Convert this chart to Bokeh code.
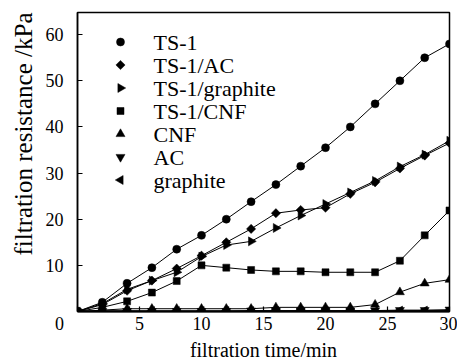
import math
from bokeh.plotting import figure
from bokeh.models import FixedTicker, Range1d, Title
from bokeh.core.properties import value
from bokeh.embed import file_html
from bokeh.resources import INLINE

time_min = [0, 2, 4, 6, 8, 10, 12, 14, 16, 18, 20, 22, 24, 26, 28, 30]
ts1 = [0, 2.0, 6.1, 9.5, 13.5, 16.5, 20.0, 23.8, 27.5, 31.5, 35.5, 40.0, 45.0, 50.0, 55.0, 58.0]
ts1_ac = [0, 1.5, 4.5, 6.7, 9.3, 12.1, 15.0, 17.9, 21.3, 22.0, 22.5, 25.5, 28.0, 31.0, 33.8, 36.5]
ts1_graphite = [0, 1.7, 4.8, 6.7, 8.5, 11.9, 14.4, 15.2, 18.1, 20.8, 23.3, 25.8, 28.3, 31.4, 34.0, 37.0]
ts1_cnf = [0, 0.9, 2.2, 4.1, 6.6, 10.0, 9.5, 9.0, 8.7, 8.7, 8.5, 8.5, 8.5, 11.0, 16.5, 21.9]
cnf = [0, 0.3, 0.6, 0.6, 0.6, 0.6, 0.6, 0.6, 0.9, 0.9, 0.9, 0.9, 1.5, 4.2, 6.1, 6.9]
ac = [0, 0.1, 0.1, 0.1, 0.1, 0.1, 0.1, 0.2, 0.2, 0.2, 0.2, 0.2, 0.2, 0.3, 0.3, 0.4]
graphite = [0, 0.1, 0.1, 0.1, 0.1, 0.1, 0.1, 0.1, 0.1, 0.1, 0.1, 0.1, 0.1, 0.2, 0.2, 0.2]

labels = ["TS-1", "TS-1/AC", "TS-1/graphite", "TS-1/CNF", "CNF", "AC", "graphite"]
series = [ts1, ts1_ac, ts1_graphite, ts1_cnf, cnf, ac, graphite]
x_ticks = [0, 5, 10, 15, 20, 25, 30]
y_ticks = [10, 20, 30, 40, 50, 60]

# marker styles (not data)
markers = ["circle", "square", "triangle", "square", "triangle", "inverted_triangle", "triangle"]
angles = [0, math.pi / 4, -math.pi / 2, 0, 0, 0, math.pi / 2]
sizes = [8, 6.5, 9, 7, 9, 9, 9]

FONT = "Liberation Serif"
X0, X1, Y0, Y1 = 0, 30, 0, 64.8
FRAME_W, FRAME_H = 372, 299

p = figure(width=457, height=363, output_backend="svg", toolbar_location=None,
           x_range=Range1d(X0, X1), y_range=Range1d(Y0, Y1),
           min_border_left=77, min_border_right=8, min_border_top=12, min_border_bottom=52)
p.grid.visible = False
p.outline_line_color = "black"
p.outline_line_width = 1.5
p.background_fill_color = "white"

for ax in (p.xaxis[0], p.yaxis[0]):
    ax.major_tick_in = 5
    ax.major_tick_out = 0
    ax.minor_tick_line_color = None
    ax.axis_line_color = "black"
    ax.major_tick_line_color = "black"
    ax.major_tick_line_width = 1.2
    ax.major_label_text_font = FONT
    ax.major_label_text_font_size = "18px"
    ax.major_label_text_color = "black"

p.xaxis[0].axis_line_width = 2
p.yaxis[0].axis_line_width = 1.5
p.xaxis[0].ticker = FixedTicker(ticks=x_ticks)
p.yaxis[0].ticker = FixedTicker(ticks=y_ticks)
# shared corner "0" sits left of the origin
p.xaxis[0].major_label_overrides = {0: "0\u2007\u2007\u2007\u2007"}
p.xaxis[0].major_label_standoff = 2
p.yaxis[0].major_label_standoff = 14
p.xaxis[0].axis_label = "filtration time/min"
p.xaxis[0].axis_label_text_font = FONT
p.xaxis[0].axis_label_text_font_size = "20px"
p.xaxis[0].axis_label_text_font_style = "normal"
p.xaxis[0].axis_label_text_color = "black"
p.xaxis[0].axis_label_standoff = 2

p.add_layout(Title(text="filtration resistance /kPa", align="right",
                   text_font=FONT, text_font_size="25px", text_font_style="normal",
                   text_color="black", standoff=12), "left")

for ys in series:
    p.line(time_min, ys, line_color="black", line_width=1)
for ys, mk, ang, sz in zip(series, markers, angles, sizes):
    p.scatter(time_min, ys, marker=mk, size=sz, angle=ang,
              fill_color="black", line_color="black", line_width=0.5)

# legend (layout in pixels, converted to data space of the frame)
KEY_PX, LABEL_PX, ROW0_PX, ROW_STEP = 43, 76, 29.5, 23
n = len(labels)
key_x = [X0 + KEY_PX / FRAME_W * (X1 - X0)] * n
lab_x = [X0 + LABEL_PX / FRAME_W * (X1 - X0)] * n
row_y = [Y1 - (ROW0_PX + i * ROW_STEP) / FRAME_H * (Y1 - Y0) for i in range(n)]
for i in range(n):
    p.scatter([key_x[i]], [row_y[i]], marker=markers[i], size=sizes[i], angle=angles[i],
              fill_color="black", line_color="black", line_width=0.5)
p.text(lab_x, row_y, text=labels, text_baseline="middle", text_align="left",
       text_font=value(FONT), text_font_size="22px", text_color="black")

open("out.html", "w").write(file_html(p, INLINE))
